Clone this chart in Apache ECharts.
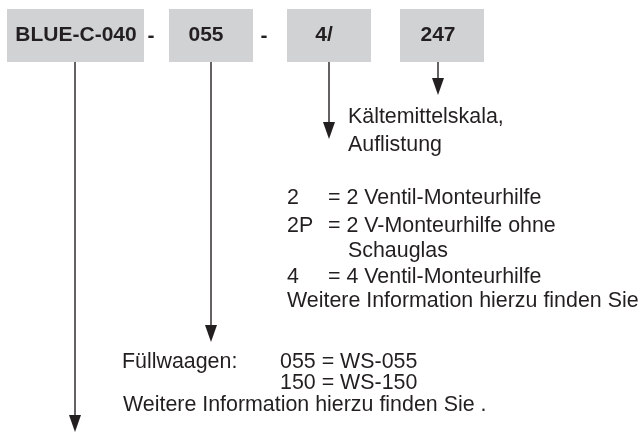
<!DOCTYPE html>
<html>
<head>
<meta charset="utf-8">
<script src="https://cdn.jsdelivr.net/npm/echarts@6/dist/echarts.min.js"></script>
<style>
  html, body { margin: 0; padding: 0; background: #fff; }
  #chart { width: 643px; height: 434px; }
</style>
</head>
<body>
<div id="chart"></div>
<script>
// code segments and the boxes around them (x from / to, in diagram units)
const codes = ["BLUE-C-040", "055", "4/", "247"];
const codeCenters = [76, 206, 324, 438];
const boxSpans = [[7, 144], [169, 253], [287, 371], [400, 484]];
const boxTopBottom = [9, 62];

const separators = ["-", "-"];
const separatorX = [151, 264];

// arrows: x of the line, y of the arrow tip
const arrowX = [75, 211, 329, 438];
const arrowTipY = [432, 342, 139, 95];

// explanatory text: [text, x, y]
const notes = [
  ["Kältemittelskala,", 348, 117],
  ["Auflistung", 348, 145],
  ["2", 287, 198],
  ["= 2 Ventil-Monteurhilfe", 328, 198],
  ["2P", 287, 226],
  ["= 2 V-Monteurhilfe ohne", 328, 226],
  ["Schauglas", 348, 251],
  ["4", 287, 277],
  ["= 4 Ventil-Monteurhilfe", 328, 277],
  ["Weitere Information hierzu finden Sie", 287, 301],
  ["Füllwaagen:", 122, 362],
  ["055 = WS-055", 280, 362],
  ["150 = WS-150", 280, 383],
  ["Weitere Information hierzu finden Sie .", 123, 405]
];

const ink = "#231f20";
const font = "Liberation Sans, Arial, Helvetica, sans-serif";

const chart = echarts.init(document.getElementById("chart"));

const boxData = codes.map((c, i) => [boxSpans[i][0], boxSpans[i][1], codeCenters[i]]);
const sepData = separators.map((s, i) => [separatorX[i], 36]);
const arrowData = arrowX.map((x, i) => [x, arrowTipY[i]]);

chart.setOption({
  animation: false,
  grid: { left: 0, right: 0, top: 0, bottom: 0 },
  xAxis: { type: "value", min: 0, max: 643, show: false },
  yAxis: { type: "value", min: 0, max: 434, inverse: true, show: false },
  series: [
    {
      type: "custom",
      name: "boxes",
      data: boxData,
      renderItem: function (params, api) {
        const i = params.dataIndex;
        const p0 = api.coord([api.value(0), boxTopBottom[0]]);
        const p1 = api.coord([api.value(1), boxTopBottom[1]]);
        const c = api.coord([api.value(2), (boxTopBottom[0] + boxTopBottom[1]) / 2]);
        return {
          type: "group",
          children: [
            {
              type: "rect",
              shape: { x: p0[0], y: p0[1], width: p1[0] - p0[0], height: p1[1] - p0[1] },
              style: { fill: "#d1d2d4" }
            },
            {
              type: "text",
              x: c[0],
              y: c[1],
              style: {
                text: codes[i],
                fill: ink,
                font: "bold 21px " + font,
                align: "center",
                verticalAlign: "middle"
              }
            }
          ]
        };
      }
    },
    {
      type: "custom",
      name: "separators",
      data: sepData,
      renderItem: function (params, api) {
        const c = api.coord([api.value(0), api.value(1)]);
        return {
          type: "text",
          x: c[0],
          y: c[1],
          style: {
            text: separators[params.dataIndex],
            fill: ink,
            font: "bold 21px " + font,
            align: "center",
            verticalAlign: "middle"
          }
        };
      }
    },
    {
      type: "custom",
      name: "arrows",
      data: arrowData,
      renderItem: function (params, api) {
        const top = api.coord([api.value(0), boxTopBottom[1]]);
        const tip = api.coord([api.value(0), api.value(1)]);
        const headH = 17, headW = 6;
        return {
          type: "group",
          children: [
            {
              type: "line",
              shape: { x1: top[0], y1: top[1], x2: tip[0], y2: tip[1] - headH + 1 },
              style: { stroke: ink, lineWidth: 1.4 }
            },
            {
              type: "polygon",
              shape: {
                points: [
                  [tip[0] - headW, tip[1] - headH],
                  [tip[0] + headW, tip[1] - headH],
                  [tip[0], tip[1]]
                ]
              },
              style: { fill: ink }
            }
          ]
        };
      }
    },
    {
      type: "custom",
      name: "notes",
      data: notes.map(n => [n[1], n[2]]),
      renderItem: function (params, api) {
        const c = api.coord([api.value(0), api.value(1)]);
        return {
          type: "text",
          x: c[0],
          y: c[1],
          style: {
            text: notes[params.dataIndex][0],
            fill: ink,
            font: "21.4px " + font,
            align: "left",
            verticalAlign: "middle"
          }
        };
      }
    }
  ]
});
</script>
</body>
</html>
